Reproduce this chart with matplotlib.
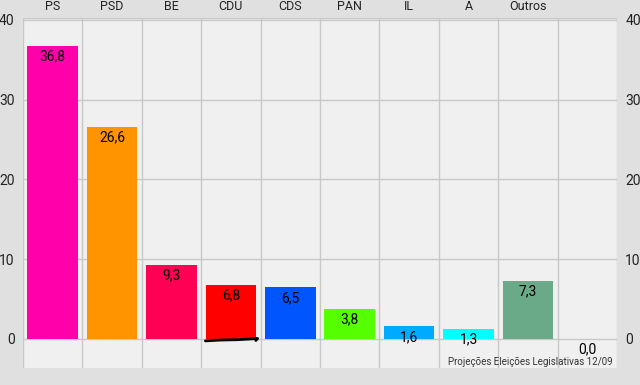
import matplotlib
matplotlib.use("Agg")
import matplotlib.pyplot as plt
import numpy as np

parties = ["PS", "PSD", "BE", "CDU", "CDS", "PAN", "IL", "A", "Outros", ""]
values = [36.8, 26.6, 9.3, 6.8, 6.5, 3.8, 1.6, 1.3, 7.3, 0.0]
colors = ["#ff00aa", "#ff9400", "#ff0055", "#ff0000", "#0055ff",
          "#55ff00", "#00aaff", "#00ffff", "#6aaa88", "#f0f0f0"]
yticks = [0, 10, 20, 30, 40]

plt.rcParams["font.family"] = ["Roboto", "DejaVu Sans"]

fig = plt.figure(figsize=(6.4, 3.85), dpi=100, facecolor="#e0e0e0")
ax = fig.add_axes([23 / 640, 17 / 385, 594 / 640, 350 / 385])
ax.set_facecolor("#f0f0f0")

x = np.arange(len(parties)) + 0.5
ax.bar(x, values, width=0.85, color=colors, zorder=3)

# value labels sit just under the top of each bar
for xi, v in zip(x, values):
    ax.annotate(f"{v:.1f}".replace(".", ","), (xi, v), xytext=(0, -7.8),
                textcoords="offset points", ha="center", va="center",
                fontsize=10, color="black", zorder=4)

ax.set_xlim(0, len(parties))
ax.set_ylim(-3.65, 40.25)
ax.set_xticks(np.arange(len(parties) + 1), minor=True)
ax.set_xticks([])
ax.set_yticks(yticks)
ax.grid(True, which="minor", axis="x", color="#c8c8c8", lw=1, zorder=1)
ax.grid(True, which="major", axis="y", color="#c8c8c8", lw=1, zorder=1)
ax.axhline(40.25, color="#c8c8c8", lw=1, zorder=1)
ax.tick_params(axis="both", which="both", length=0)
ax.tick_params(axis="y", labelsize=10, labelcolor="#222222", pad=6,
               labelleft=True, labelright=True)
for s in ax.spines.values():
    s.set_visible(False)

# category names along the top
for xi, name in zip(x, parties):
    ax.annotate(name, (xi, 1.0), xycoords=ax.get_xaxis_transform(),
                xytext=(0, 8), textcoords="offset points",
                ha="center", va="center", fontsize=9, color="#222222")

# pen scribble under CDU
ci = parties.index("CDU")
sx = x[ci] + np.array([-0.43, -0.2, 0.1, 0.35, 0.45, 0.42])
sy = np.array([-0.25, -0.15, -0.1, 0.0, 0.05, -0.2])
ax.plot(sx, sy, color="black", lw=2, solid_capstyle="round", zorder=5,
        clip_on=False)

ax.text(0.993, 0.004, "Projeções Eleições Legislativas 12/09",
        transform=ax.transAxes, ha="right", va="bottom",
        fontsize=7, color="#333333")

fig.savefig("out.png", dpi=100, facecolor=fig.get_facecolor())
